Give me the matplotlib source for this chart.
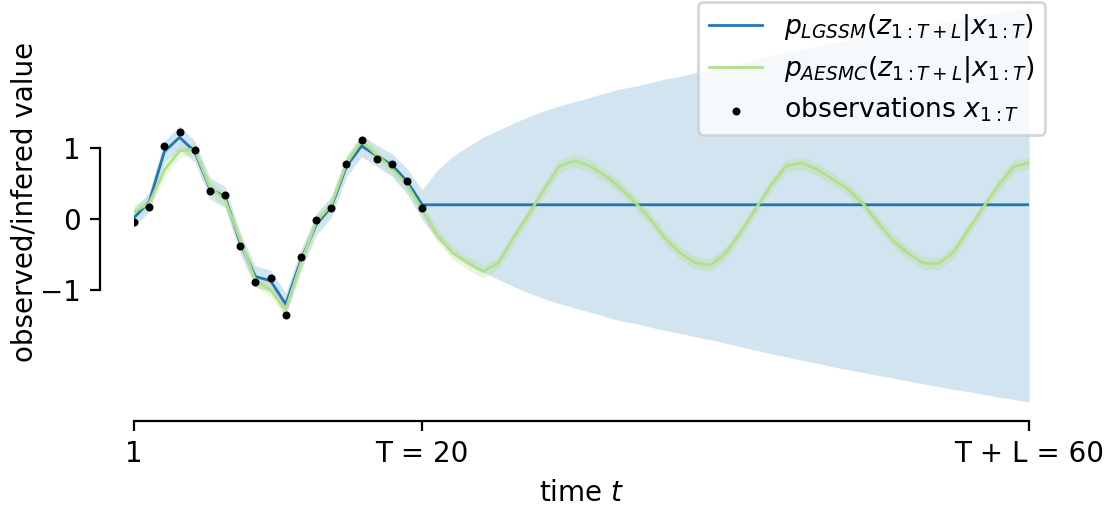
import numpy as np
import matplotlib.pyplot as plt

# time steps 1..60, T = 20 observed, L = 40 predicted
t = np.arange(1, 61)
T = 20

observations = [-0.04, 0.17, 1.03, 1.22, 0.97, 0.40, 0.34, -0.38, -0.89, -0.83,
                -1.35, -0.53, -0.01, 0.16, 0.77, 1.11, 0.84, 0.78, 0.54, 0.15]

lgssm_mean = [0.02, 0.24, 0.95, 1.15, 0.95, 0.43, 0.31, -0.34, -0.81, -0.87,
              -1.20, -0.58, -0.08, 0.17, 0.74, 1.03, 0.89, 0.76, 0.53, 0.20,
              0.20, 0.20, 0.20, 0.20, 0.20, 0.20, 0.20, 0.20, 0.20, 0.20,
              0.20, 0.20, 0.20, 0.20, 0.20, 0.20, 0.20, 0.20, 0.20, 0.20,
              0.20, 0.20, 0.20, 0.20, 0.20, 0.20, 0.20, 0.20, 0.20, 0.20,
              0.20, 0.20, 0.20, 0.20, 0.20, 0.20, 0.20, 0.20, 0.20, 0.20]

lgssm_spread = [0.12, 0.14, 0.15, 0.16, 0.15, 0.15, 0.15, 0.15, 0.15, 0.15,
                0.16, 0.15, 0.15, 0.15, 0.15, 0.15, 0.15, 0.16, 0.18, 0.21,
                0.49, 0.68, 0.82, 0.95, 1.05, 1.15, 1.24, 1.32, 1.39, 1.45,
                1.51, 1.57, 1.63, 1.67, 1.72, 1.77, 1.81, 1.86, 1.90, 1.95,
                2.00, 2.05, 2.10, 2.14, 2.19, 2.23, 2.28, 2.32, 2.36, 2.40,
                2.44, 2.48, 2.52, 2.56, 2.60, 2.63, 2.67, 2.71, 2.74, 2.78]

aesmc_mean = [0.10, 0.22, 0.69, 0.96, 0.98, 0.45, 0.27, -0.30, -0.86, -1.00,
              -1.27, -0.62, -0.04, 0.20, 0.78, 1.10, 0.90, 0.71, 0.48, 0.13,
              -0.23, -0.48, -0.62, -0.74, -0.62, -0.27, 0.06, 0.41, 0.74, 0.82,
              0.75, 0.62, 0.45, 0.24, 0.01, -0.27, -0.48, -0.62, -0.65, -0.48,
              -0.18, 0.15, 0.48, 0.75, 0.79, 0.70, 0.57, 0.43, 0.23, -0.04,
              -0.30, -0.48, -0.62, -0.63, -0.47, -0.15, 0.17, 0.48, 0.74, 0.79]
aesmc_spread = 0.09

tick_pos = [1, T, 60]
tick_labels = ['1', 'T = 20', 'T + L = 60']

blue = '#1f78b4'
green = '#b2df8a'

plt.rcParams['font.size'] = 10
fig = plt.figure(figsize=(5.525, 2.525), dpi=200)
ax = fig.add_axes([0.1213, 0.2008, 0.8100, 0.7986])

lgssm_mean = np.array(lgssm_mean)
lgssm_spread = np.array(lgssm_spread)
aesmc_mean = np.array(aesmc_mean)

ax.fill_between(t, lgssm_mean - lgssm_spread, lgssm_mean + lgssm_spread,
                color=blue, alpha=0.2, linewidth=0)
ax.fill_between(t, aesmc_mean - aesmc_spread, aesmc_mean + aesmc_spread,
                color=green, alpha=0.3, linewidth=0)
ax.plot(t, lgssm_mean, color=blue, linewidth=1.0,
        label=r'$p_{LGSSM}(z_{1:T+L}|x_{1:T})$')
ax.plot(t, aesmc_mean, color=green, linewidth=1.0,
        label=r'$p_{AESMC}(z_{1:T+L}|x_{1:T})$')
ax.scatter(t[:T], observations, s=3.5, color='k', zorder=3,
           label=r'observations $x_{1:T}$')

ax.set_xlim(1, 60)
ax.set_ylim(-2.6, 3.08)
ax.set_xticks(tick_pos)
ax.set_xticklabels(tick_labels)
ax.set_yticks([-1, 0, 1])
ax.set_xlabel('time $t$')
ax.set_ylabel('observed/infered value', labelpad=0.5)

for side in ['top', 'right']:
    ax.spines[side].set_visible(False)
ax.spines['left'].set_position(('outward', 12.2))
ax.spines['bottom'].set_position(('outward', 6.1))
ax.spines['left'].set_bounds(-1, 1)
ax.spines['bottom'].set_bounds(1, 60)

ax.legend(loc='upper right', bbox_to_anchor=(1.018, 0.997), borderaxespad=0,
          fontsize=9.6, labelspacing=0.4)

fig.savefig('out.png', dpi=200)
